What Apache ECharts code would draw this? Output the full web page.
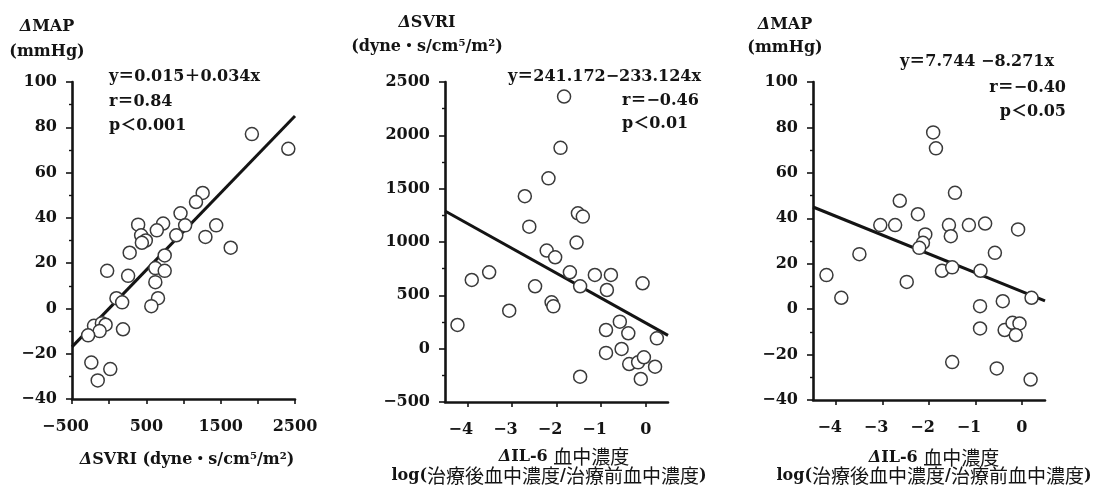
<!DOCTYPE html>
<html>
<head>
<meta charset="utf-8">
<script src="https://cdn.jsdelivr.net/npm/echarts@6/dist/echarts.min.js"></script>
<style>html,body{margin:0;background:#fff}#chart{width:1094px;height:491px}</style>
</head>
<body>
<div id="chart"></div>
<script>
// left panel: dSVRI (x) vs dMAP (y)
var svriX1 = [1920, 2410, 1258, 1168, 960, 1440, 1022, 390, 726, 641, 430, 493, 440, 903, 1295, 1635, 276, 747,
    -27, 255, 621, 747, 621, 98, 175, 657, 567, -204, -98, -48, -128, -283, 186, -240, 15, -154];
var mapY1 = [77, 70.5, 51, 47, 42, 36.7, 36.7, 37, 37.5, 34.5, 32.3, 30, 29, 32.3, 31.6, 26.8, 24.6, 23.4,
    16.6, 14.4, 17.8, 16.6, 11.6, 4.5, 2.7, 4.5, 1, -7.7, -6.5, -7.2, -10, -11.9, -9.2, -23.9, -26.8, -31.8];

// middle panel: dIL-6 (x) vs dSVRI (y)
var il6X2 = [-1.83, -1.91, -2.18, -2.71, -1.52, -1.41, -2.61, -1.55, -2.22, -2.03, -3.90, -3.51, -1.70, -1.14,
    -0.78, -2.48, -1.47, -0.87, -0.07, -2.11, -2.07, -3.06, -4.22, -0.58, -0.89, -0.39, 0.25, -0.89, -0.54,
    -0.37, -0.17, -0.04, 0.21, -1.47, -0.11];
var svriY2 = [2364, 1883, 1597, 1429, 1269, 1238, 1144, 995, 920, 857, 644, 716, 716, 691,
    691, 585, 585, 550, 613, 434, 397, 356, 222, 253, 175, 144, 97, -40, -3,
    -144, -128, -81, -169, -263, -284];

// right panel: dIL-6 (x) vs dMAP (y)
var il6X3 = [-1.91, -1.85, -1.44, -2.63, -2.24, -3.05, -2.73, -1.57, -1.14, -0.79, -0.08, -2.08, -1.53, -2.13,
    -2.21, -3.50, -0.58, -4.21, -3.89, -2.48, -1.72, -1.50, -0.89, 0.21, -0.90, -0.41, -0.90, -0.37, -0.20,
    -0.05, -0.13, -1.50, -0.54, 0.19];
var mapY3 = [77.8, 70.8, 51.2, 47.7, 41.8, 37, 37, 37, 37, 37.7, 35.1, 32.9, 32.1, 29.2,
    27, 24.2, 24.8, 15, 5, 12, 16.9, 18.4, 16.9, 5, 1.3, 3.5, -8.5, -9.2, -6,
    -6.3, -11.4, -23.3, -26.1, -31];

// regression: [intercept, slope]
var fit1 = [0.015, 0.034];
var fit2 = [241.172, -233.124];
var fit3 = [7.744, -8.271];

var svriRange = [-500, 2500];
var il6Range = [-4.5, 0.5];
var svriLabels = [-500, 500, 1500, 2500];
var il6Ticks = [-4, -3, -2, -1, 0];

var ink = '#141414';
var serif = 'DejaVu Serif';
var cjk = 'Noto Sans CJK JP';

function zip(xs, ys) {
    return xs.map(function (x, i) { return [x, ys[i]]; });
}
function fitLine(fit, range) {
    return range.map(function (x) { return [x, fit[0] + fit[1] * x]; });
}
function minus(v) {
    return v < 0 ? '\u2212' + Math.abs(v) : String(v);
}

var lineStyle = { color: ink, width: 2.6 };
var labelStyle = { color: ink, fontFamily: serif, fontWeight: 'bold', fontSize: 16 };

function xAxisOpt(idx, min, max, extra) {
    var o = {
        type: 'value', gridIndex: idx, min: min, max: max,
        axisLine: { show: true, onZero: false, lineStyle: lineStyle },
        axisTick: { show: true, length: 5, lineStyle: { color: ink, width: 1.6 } },
        splitLine: { show: false },
        axisLabel: Object.assign({
            margin: 20,
            formatter: function (v) { return v < 0 ? minus(v) + '{sp| }' : String(v); },
            rich: { sp: { width: 13 } }
        }, labelStyle)
    };
    for (var k in extra) {
        if (typeof extra[k] === 'object' && o[k]) Object.assign(o[k], extra[k]); else o[k] = extra[k];
    }
    return o;
}
function yAxisOpt(idx, min, max, step) {
    return {
        type: 'value', gridIndex: idx, min: min, max: max, interval: step,
        axisLine: { show: true, onZero: false, lineStyle: lineStyle },
        axisTick: { show: true, length: 6, lineStyle: { color: ink, width: 1.6 } },
        minorTick: { show: true, splitNumber: 2, length: 3, lineStyle: { color: ink, width: 1.4 } },
        splitLine: { show: false },
        axisLabel: Object.assign({ margin: 15, formatter: minus }, labelStyle)
    };
}
function scatter(idx, data) {
    return {
        type: 'scatter', xAxisIndex: idx, yAxisIndex: idx, data: data, symbolSize: 13, z: 3,
        itemStyle: { color: '#fff', borderColor: '#3a3a3a', borderWidth: 1.5, opacity: 1 }
    };
}
function regLine(idx, data) {
    return {
        type: 'line', xAxisIndex: idx, yAxisIndex: idx, data: data, symbol: 'none', z: 2,
        lineStyle: { color: ink, width: 3 }, silent: true
    };
}

var rich = {
    d: { fontFamily: serif, fontWeight: 'bold', fontStyle: 'italic', fontSize: 16, fill: ink, color: ink },
    j: { fontFamily: cjk, fontWeight: 'normal', fontSize: 19, fill: ink, color: ink }
};
function txt(x, y, text, align, size) {
    return {
        type: 'text', x: x, y: y, silent: true,
        style: {
            text: text, fill: ink, fontFamily: serif + ', ' + cjk, fontWeight: 'bold', fontSize: size || 16,
            textAlign: align, align: align, textVerticalAlign: 'middle', verticalAlign: 'middle', rich: rich
        }
    };
}

var chart = echarts.init(document.getElementById('chart'));

var option = {
    animation: false,
    backgroundColor: '#fff',
    grid: [
        { left: 72, right: 799, top: 82, bottom: 92 },
        { left: 445, right: 426, top: 82, bottom: 89 },
        { left: 813, right: 49, top: 82, bottom: 91 }
    ],
    xAxis: [
        xAxisOpt(0, svriRange[0], svriRange[1], {
            interval: 500,
            axisLabel: { customValues: svriLabels }
        }),
        xAxisOpt(1, il6Range[0], il6Range[1], {
            axisTick: { customValues: il6Ticks },
            axisLabel: { customValues: il6Ticks }
        }),
        xAxisOpt(2, il6Range[0], il6Range[1], {
            axisTick: { customValues: il6Ticks },
            axisLabel: { customValues: il6Ticks }
        })
    ],
    yAxis: [
        yAxisOpt(0, -40, 100, 20),
        yAxisOpt(1, -500, 2500, 500),
        yAxisOpt(2, -40, 100, 20)
    ],
    series: [
        regLine(0, fitLine(fit1, svriRange)),
        scatter(0, zip(svriX1, mapY1)),
        regLine(1, fitLine(fit2, il6Range)),
        scatter(1, zip(il6X2, svriY2)),
        regLine(2, fitLine(fit3, il6Range)),
        scatter(2, zip(il6X3, mapY3))
    ],
    graphic: [
        // left
        txt(47, 27, '{d|Δ}MAP', 'center'),
        txt(47, 52, '(mmHg)', 'center'),
        txt(109, 77, 'y＝0.015＋0.034x', 'left'),
        txt(109, 102, 'r＝0.84', 'left'),
        txt(109, 126, 'p＜0.001', 'left'),
        txt(187, 460, '{d|Δ}SVRI (dyne・s/cm⁵/m²)', 'center'),
        // middle
        txt(427, 23, '{d|Δ}SVRI', 'center'),
        txt(427, 47, '(dyne・s/cm⁵/m²)', 'center'),
        txt(508, 77, 'y＝241.172−233.124x', 'left'),
        txt(622, 101, 'r＝−0.46', 'left'),
        txt(622, 124, 'p＜0.01', 'left'),
        txt(564, 457, '{d|Δ}IL-6 {j|血中濃度}', 'center'),
        txt(549, 476, 'log({j|治療後血中濃度}/{j|治療前血中濃度})', 'center'),
        // right
        txt(785, 25, '{d|Δ}MAP', 'center'),
        txt(785, 48, '(mmHg)', 'center'),
        txt(900, 62, 'y＝7.744 −8.271x', 'left'),
        txt(1066, 88, 'r＝−0.40', 'right'),
        txt(1066, 112, 'p＜0.05', 'right'),
        txt(934, 458, '{d|Δ}IL-6 {j|血中濃度}', 'center'),
        txt(934, 476, 'log({j|治療後血中濃度}/{j|治療前血中濃度})', 'center')
    ]
};

chart.setOption(option);
</script>
</body>
</html>
